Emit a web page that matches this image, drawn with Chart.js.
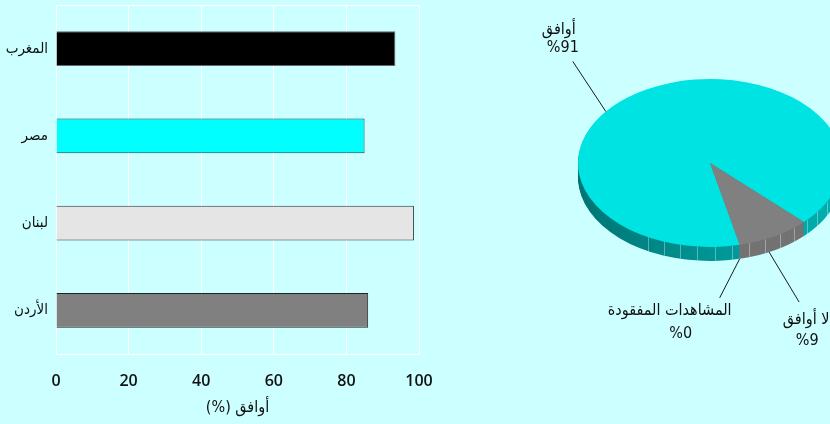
<!DOCTYPE html>
<html>
<head>
<meta charset="utf-8">
<script src="https://cdn.jsdelivr.net/npm/chart.js@4.4.1/dist/chart.umd.min.js"></script>
<style>
  html, body { margin: 0; padding: 0; width: 830px; height: 424px; overflow: hidden; background: #ccffff; }
  canvas { position: absolute; top: 0; direction: rtl; }
  #barChart { left: 0; }
  #pieChart { left: 440px; }
</style>
</head>
<body>
<canvas id="barChart" width="440" height="424"></canvas>
<canvas id="pieChart" width="540" height="424"></canvas>
<script>
// bar chart data
const countries = ['المغرب', 'مصر', 'لبنان', 'الأردن'];
const agreeValues = [93.5, 85, 98.6, 86];
const barColors = ['#000000', '#00ffff', '#e5e5e5', '#808080'];
const barBorders = ['#666666', '#0a4a4a', '#333333', '#222222'];
const axisTitle = 'أوافق (%)';

// pie data
const pieLabels = ['أوافق', 'لا أوافق', 'المشاهدات المفقودة'];
const pieValues = [91, 9, 0];
const pieColors = ['#00e3e3', '#808080', '#808080'];

const arabicFont = "'DejaVu Sans Condensed', 'DejaVu Sans', sans-serif";
const digitFont = "'Open Sans', 'DejaVu Sans', sans-serif";

// drop the extra room chart.js keeps for half tick labels
function noEdgePadding(s) {
    s.paddingTop = 0;
    s.paddingBottom = 0;
    s.paddingLeft = 0;
    s.paddingRight = 0;
}

new Chart(document.getElementById('barChart'), {
    type: 'bar',
    data: {
        labels: countries,
        datasets: [{
            data: agreeValues,
            backgroundColor: barColors,
            borderColor: barBorders,
            borderWidth: 1,
            barPercentage: 0.4,
            categoryPercentage: 1
        }]
    },
    options: {
        indexAxis: 'y',
        responsive: false,
        animation: false,
        layout: { padding: { top: 5, right: 21, left: 0, bottom: 0 } },
        plugins: { legend: { display: false }, tooltip: { enabled: false } },
        scales: {
            x: {
                min: 0,
                max: 100,
                ticks: { stepSize: 20, color: '#111', padding: 18, font: { family: digitFont, size: 16, weight: '600' } },
                grid: { color: '#ffffff', drawTicks: false },
                border: { color: '#ffffff' },
                title: {
                    display: true,
                    text: axisTitle,
                    color: '#111',
                    font: { family: arabicFont, size: 16 },
                    padding: { top: 0, bottom: 7 }
                },
                afterFit: s => { noEdgePadding(s); s.height = 70; }
            },
            y: {
                ticks: { color: '#111', padding: 8, font: { family: arabicFont, size: 15 } },
                grid: {
                    drawTicks: false,
                    // only the top edge line (index 0) and the closing line
                    color: c => (c.index === 0 || c.index === undefined) ? '#ffffff' : 'rgba(0,0,0,0)'
                },
                border: { color: '#ffffff' },
                afterFit: s => { noEdgePadding(s); s.width = 56; }
            }
        }
    }
});

// fake 3d: squash the pie and stack darker copies under it
const SQUASH = 0.636;
const DEPTH = 14;

function squash(ctx, cy) {
    ctx.translate(0, cy);
    ctx.scale(1, SQUASH);
    ctx.translate(0, -cy);
}

// where each label's leader starts on its slice (fraction of the slice angle),
// whether it leaves from the lower rim, the leader end offset and text offsets
const leaders = [
    { at: 0.43, rim: false, dx: -33, dy: -50, lines: [[-14, -32], [-10, -14]] },
    { at: 0.58, rim: true, dx: 30, dy: 50, lines: [[7, 18], [8, 39]] },
    { at: 0, rim: true, dx: -20, dy: 39, lines: [[-50, 13], [-39, 36]] }
];

const pie3d = {
    id: 'pie3d',
    beforeDatasetsDraw(chart) {
        const ctx = chart.ctx;
        const arcs = chart.getDatasetMeta(0).data;
        const { x, y, outerRadius: r } = arcs[0];

        const grad = ctx.createLinearGradient(x - r, 0, x + r, 0);
        grad.addColorStop(0, '#007474');
        grad.addColorStop(0.5, '#009494');
        grad.addColorStop(1, '#00b0b0');
        const sideColors = [grad, '#737373', '#737373'];

        for (let d = DEPTH; d > 0; d--) {
            ctx.save();
            ctx.translate(0, d);
            squash(ctx, y);
            arcs.forEach((arc, i) => {
                if (arc.endAngle - arc.startAngle <= 0) return;
                ctx.beginPath();
                ctx.moveTo(x, y);
                ctx.arc(x, y, r, arc.startAngle, arc.endAngle);
                ctx.closePath();
                ctx.fillStyle = sideColors[i];
                ctx.fill();
            });
            ctx.restore();
        }

        // thin facet lines on the rim
        ctx.save();
        ctx.strokeStyle = 'rgba(255,255,255,0.35)';
        ctx.lineWidth = 1;
        for (let a = 118; a > 5; a -= 7.5) {
            const t = a * Math.PI / 180;
            const px = Math.round(x + r * Math.cos(t)) + 0.5;
            const py = y + r * SQUASH * Math.sin(t);
            ctx.beginPath();
            ctx.moveTo(px, py);
            ctx.lineTo(px, py + DEPTH);
            ctx.stroke();
        }
        ctx.restore();

        ctx.save();
        squash(ctx, y);
    },
    afterDatasetsDraw(chart) {
        const ctx = chart.ctx;
        ctx.restore();

        const arcs = chart.getDatasetMeta(0).data;
        ctx.save();
        ctx.strokeStyle = '#1a1a1a';
        ctx.lineWidth = 1;
        ctx.fillStyle = '#111';
        ctx.font = '16px ' + arabicFont;
        ctx.textAlign = 'center';
        ctx.textBaseline = 'middle';
        ctx.direction = 'rtl';
        arcs.forEach((arc, i) => {
            const L = leaders[i];
            const t = arc.startAngle + (arc.endAngle - arc.startAngle) * L.at;
            const sx = arc.x + arc.outerRadius * Math.cos(t);
            const sy = arc.y + arc.outerRadius * SQUASH * Math.sin(t) + (L.rim ? DEPTH : 0);
            const ex = sx + L.dx, ey = sy + L.dy;
            ctx.beginPath();
            ctx.moveTo(sx, sy);
            ctx.lineTo(ex, ey);
            ctx.stroke();
            const txt = [pieLabels[i], '%' + pieValues[i]];
            txt.forEach((s, k) => ctx.fillText(s, ex + L.lines[k][0], ey + L.lines[k][1]));
        });
        ctx.restore();
    }
};

new Chart(document.getElementById('pieChart'), {
    type: 'pie',
    data: {
        labels: pieLabels,
        datasets: [{
            data: pieValues,
            backgroundColor: pieColors,
            borderWidth: 0
        }]
    },
    options: {
        responsive: false,
        animation: false,
        rotation: 167,
        layout: { padding: { left: 138, right: 138, top: 31, bottom: 129 } },
        plugins: { legend: { display: false }, tooltip: { enabled: false } }
    },
    plugins: [pie3d]
});
</script>
</body>
</html>
